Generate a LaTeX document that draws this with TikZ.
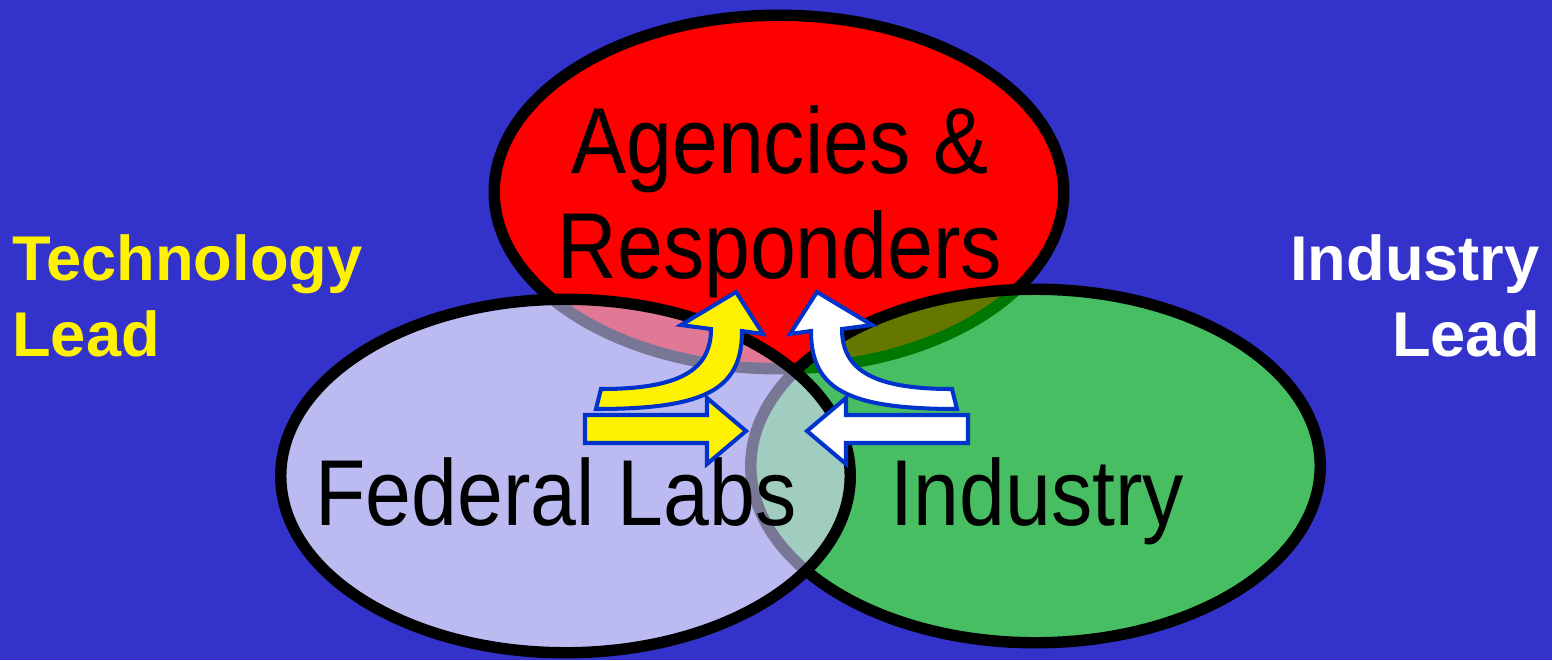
\documentclass[tikz,border=0pt]{standalone}
\usepackage{fontspec}
\setmainfont{Liberation Sans}
\newfontfamily\vennfont[FakeStretch=0.88]{Liberation Sans}
\newcommand\vennsize{\fontsize{53.3}{59.5}\selectfont}
\newcommand\leadsize{\fontsize{36}{43.5}\selectfont}

\definecolor{bgblue}{RGB}{51,51,204}
\definecolor{agred}{RGB}{255,0,0}
\definecolor{indgreen}{RGB}{71,190,98}
\definecolor{labblue}{RGB}{187,187,242}
\definecolor{redgreen}{RGB}{102,119,0}
\definecolor{redlab}{RGB}{224,120,150}
\definecolor{labgreen}{RGB}{160,205,192}
\definecolor{ringgreen}{RGB}{0,119,0}
\definecolor{ringgrey}{RGB}{120,120,150}
\definecolor{arrowblue}{RGB}{0,51,204}

\tikzset{
    ring/.style={line width=6.5pt},
    blockarrow/.style={draw=arrowblue, line width=2.3pt, line join=miter},
    venntext/.style={inner sep=0, font=\vennfont\vennsize},
    leadtext/.style={inner sep=0, font=\bfseries\leadsize}
}

\begin{document}
\begin{tikzpicture}[x=0.02cm, y=-0.02cm]
    % Define ellipse size
    \def\ellrx{284.75}
    \def\ellry{176.75}
    \def\axis{776.5} % the two arrow pairs are mirrored about this x

    % Background
    \fill[bgblue] (0,0) rectangle (1552,660);

    % Ellipse centres
    \coordinate (redc) at (779,192);
    \coordinate (labc) at (565.5,476);
    \coordinate (indc) at (1035.5,466);

    % Agencies ellipse
    \fill[agred] (redc) ellipse [x radius=\ellrx, y radius=\ellry];
    \draw[ring] (redc) ellipse [x radius=\ellrx, y radius=\ellry];

    % Industry ellipse, over the red one
    \fill[indgreen] (indc) ellipse [x radius=\ellrx, y radius=\ellry];
    \begin{scope}
        \clip (indc) ellipse [x radius=\ellrx, y radius=\ellry];
        \fill[redgreen] (redc) ellipse [x radius=\ellrx, y radius=\ellry];
        \draw[ring, ringgreen] (redc) ellipse [x radius=\ellrx, y radius=\ellry];
    \end{scope}
    \draw[ring] (indc) ellipse [x radius=\ellrx, y radius=\ellry];

    % Federal labs ellipse, on top
    \fill[labblue] (labc) ellipse [x radius=\ellrx, y radius=\ellry];
    \begin{scope}
        \clip (labc) ellipse [x radius=\ellrx, y radius=\ellry];
        \fill[redlab] (redc) ellipse [x radius=\ellrx, y radius=\ellry];
        \fill[labgreen] (indc) ellipse [x radius=\ellrx, y radius=\ellry];
        \draw[ring, ringgrey] (redc) ellipse [x radius=\ellrx, y radius=\ellry];
        \draw[ring, ringgrey] (indc) ellipse [x radius=\ellrx, y radius=\ellry];
    \end{scope}
    \draw[ring] (labc) ellipse [x radius=\ellrx, y radius=\ellry];

    % Labels (base = baseline of the last line)
    \node[venntext, anchor=base, align=center] (agencies) at (780,278) {Agencies \&\\Responders};
    \node[venntext, anchor=base] (fedlabs) at (556,525) {Federal Labs};
    \node[venntext, anchor=base] (industry) at (1037.5,525) {Industry};
    \node[leadtext, anchor=base west, align=left, yellow] (techlead) at (12,356.5) {Technology\\Lead};
    \node[leadtext, anchor=base east, align=right, white] (indlead) at (1540,356.5) {Industry\\Lead};

    % Arrows: yellow on the left, white mirrored on the right
    \foreach \side/\col in {1/yellow, -1/white} {
        \begin{scope}[shift={(\axis,0)}, xscale=\side]
            % curved arrow up into the red ellipse
            \filldraw[blockarrow, fill=\col] (-175.5,389) .. controls (-98.5,389) and (-65.5,371) .. (-65.5,329)
                -- (-95.5,325) -- (-40.5,292) -- (-13.5,334) -- (-34.5,331)
                .. controls (-34.5,389.5) and (-71,409) .. (-180.5,409) -- cycle;
            % straight arrow towards the middle
            \filldraw[blockarrow, fill=\col] (-191.5,415) -- (-69.5,415) -- (-69.5,398) -- (-30.5,431)
                -- (-69.5,464) -- (-69.5,443) -- (-191.5,443) -- cycle;
        \end{scope}
    }
\end{tikzpicture}
\end{document}
